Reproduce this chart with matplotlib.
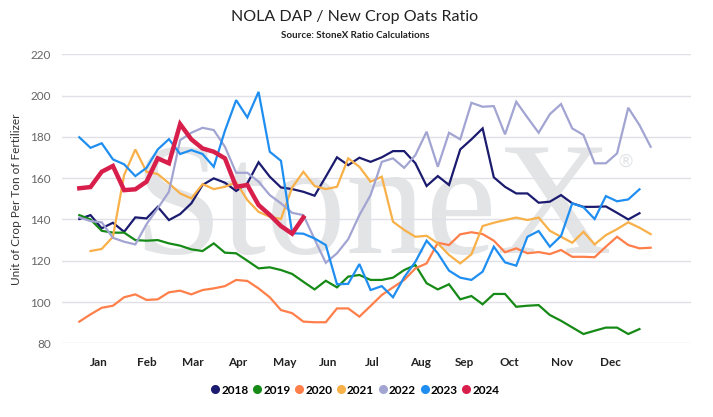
import numpy as np
import matplotlib.pyplot as plt
from matplotlib.lines import Line2D

plt.rcParams['font.family'] = ['Lato', 'DejaVu Sans']

# weekly ratio values, one list per crop year (None = no value that week)
y2018 = [140.2, 142.1, 135.7, 138.4, 134, 141, 140.5, 146.1, 139.7, 142.6,
         147.8, 156.7, 159.9, 157.8, 153.8, 157.5, 167.7, 160.7, 155.5, 154.7,
         153.4, 151.5, 160.7, 170.1, 166.3, 169.9, 167.9, 170.1, 173.1, 173.1,
         167.2, 156.2, 161, 156.7, 173.9, 178.8, 184.1, 160.4, 155.8, 152.6,
         152.6, 148.1, 148.6, 151.8, 147.8, 146.1, 146.1, 146.3, 143.2, 140, 143]
y2019 = [142.1, 140, 134.5, 133.6, 133.6, 130, 129.7, 130, 128.4, 127.3,
         125.5, 124.7, 128.4, 123.9, 123.6, 120, 116.3, 116.8, 115.5, 113.6,
         109.8, 106.1, 110.3, 107.1, 112.3, 113.1, 110.7, 110.7, 111.8, 115.5,
         117.9, 109.1, 106.1, 108.6, 101.3, 102.9, 98.9, 103.9, 103.9, 97.7,
         98.2, 98.5, 93.7, 90.9, 87.7, 84.5, 86.1, 87.6, 87.6, 84.5, 86.9]
y2020 = [90.5, 94, 97.2, 98.2, 102.3, 103.7, 101, 101.3, 104.7, 105.5,
         103.7, 105.8, 106.6, 107.7, 110.7, 110.2, 106.6, 102.3, 96.1, 94.6,
         90.5, 90.2, 90.2, 96.9, 96.9, 92.9, 98.1, 103.4, 107.1, 110.7,
         116.3, 118.7, 128.7, 127.6, 132.8, 133.8, 132.9, 129.7, 124.1, 126,
         123.6, 124.2, 123.2, 125.2, 121.9, 121.9, 121.7, 126.8, 131.6, 127.6,
         126, 126.3]
y2021 = [None, 124.7, 125.7, 131.6, 161.5, 173.9, 163.1, 162, 157.5, 152.6,
         150.2, 157.1, 154.7, 155.8, 158, 149.4, 143.7, 141.3, 140.2, 155.5,
         163.1, 156.2, 154.7, 155.8, 169.6, 165.5, 158.3, 160.7, 138.9, 134.9,
         131.6, 132.1, 128.4, 122.8, 118.7, 123.1, 136.8, 138.4, 139.7, 140.9,
         139.7, 140.9, 134.5, 131.6, 128.7, 134, 127.9, 132.4, 135.3, 138.6,
         136, 132.9]
y2022 = [141, 139.2, 138.6, 131.1, 129.2, 127.9, 137.7, 145.4, 153.4, 178.4,
         182, 184.4, 183.3, 175.2, 162.6, 162.6, 158.3, 151.8, 147.8, 143.2,
         142.1, 130.4, 119, 123.6, 130.4, 142.1, 151.8, 167.9, 169.6, 165,
         171.2, 182.5, 165.5, 182, 178.8, 196.5, 194.6, 194.9, 181.2, 197,
         189.4, 182, 191, 195.9, 184.1, 180.9, 167.2, 167.2, 172, 194.1,
         185.7, 175.2]
y2023 = [179.8, 174.7, 176.9, 169.1, 166.7, 161, 165, 173.9, 178.9, 171.7,
         173.6, 171.7, 165.5, 183, 197.8, 189.4, 201.8, 172.8, 168.4, 133.3,
         133.1, 130.8, 127.6, 108.6, 108.8, 118.4, 105.8, 107.7, 102.3, 112,
         119.5, 129.7, 123.6, 115.2, 111.8, 110.7, 114.7, 126.8, 119.2, 117.6,
         131.6, 134.4, 126.8, 132, 147.8, 145.9, 140.2, 151.3, 148.8, 149.7, 154.6]
y2024 = [155.1, 155.7, 163.1, 165.9, 154.2, 154.6, 158.3, 169.6, 167.2, 186.2,
         178.8, 174.4, 172.8, 169.6, 155.8, 156.7, 147, 142.2, 136.8, 133.1, 141]

years = ['2018', '2019', '2020', '2021', '2022', '2023', '2024']
series = [y2018, y2019, y2020, y2021, y2022, y2023, y2024]
colors = ['#1b1b6f', '#168a16', '#ff7f4a', '#f8b048', '#a2a4d2', '#1f8ef1', '#d81f4c']

months = ['Jan', 'Feb', 'Mar', 'Apr', 'May', 'Jun', 'Jul', 'Aug', 'Sep', 'Oct', 'Nov', 'Dec']
month_pos = [1.7, 6.02, 10.17, 14.14, 18.3, 22.18, 26.16, 30.42, 34.38, 38.4, 43.12, 47.39]

fig = plt.figure(figsize=(7.13, 4.17), dpi=100)
ax = fig.add_axes([62 / 713, 1 - 343.3 / 417, 629 / 713, 289 / 417])

# big watermark behind the lines
ax.text(0.113, 0.312, 'StoneX', transform=ax.transAxes, fontsize=115,
        family='Liberation Serif', color='#e3e4e6',
        ha='left', va='baseline', zorder=0)
ax.text(0.882, 0.627, '\u00ae', transform=ax.transAxes, fontsize=13,
        family='DejaVu Sans', color='#e3e4e6', ha='left', va='center', zorder=0)

for yr, vals, c in zip(years, series, colors):
    v = np.array(vals, dtype=float)
    lw = 3.2 if yr == '2024' else 1.6
    ax.plot(np.arange(len(v)), v, color=c, lw=lw, solid_joinstyle='miter', zorder=3)

ax.set_xlim(-1.545, 54.6)
ax.set_ylim(80, 220)
ax.set_yticks(np.arange(80, 221, 20))
ax.set_xticks(month_pos)
ax.set_xticklabels(months, fontweight='bold', fontsize=8.5, color='#222222')
ax.tick_params(axis='y', labelsize=8.5, labelcolor='#666666', length=0, pad=8)
ax.tick_params(axis='x', length=0, pad=10)
ax.grid(axis='y', color='#e0e0e6', lw=1)
ax.set_axisbelow(True)
for s in ax.spines.values():
    s.set_visible(False)

ax.set_ylabel('Unit of Crop Per Ton of Fertilizer', fontsize=8.5, color='#333333')
ax.yaxis.set_label_coords(-0.064, 0.5)

fig.text(355 / 713, 1 - 17 / 417, 'NOLA DAP / New Crop Oats Ratio', ha='center', va='center',
         fontsize=11.5, color='#222222')
fig.text(355 / 713, 1 - 35 / 417, 'Source: StoneX Ratio Calculations', ha='center', va='center',
         fontsize=7, fontweight='bold', color='#222222')

handles = [Line2D([], [], ls='none', marker='o', markersize=5.5, color=c) for c in colors]
fig.legend(handles, years, loc='center', bbox_to_anchor=(355 / 713, 1 - 390 / 417), ncol=7,
           frameon=False, handletextpad=0.1, columnspacing=0.35, handlelength=0.8,
           prop={'weight': 'bold', 'size': 8.5})

fig.savefig('out.png', dpi=100)
